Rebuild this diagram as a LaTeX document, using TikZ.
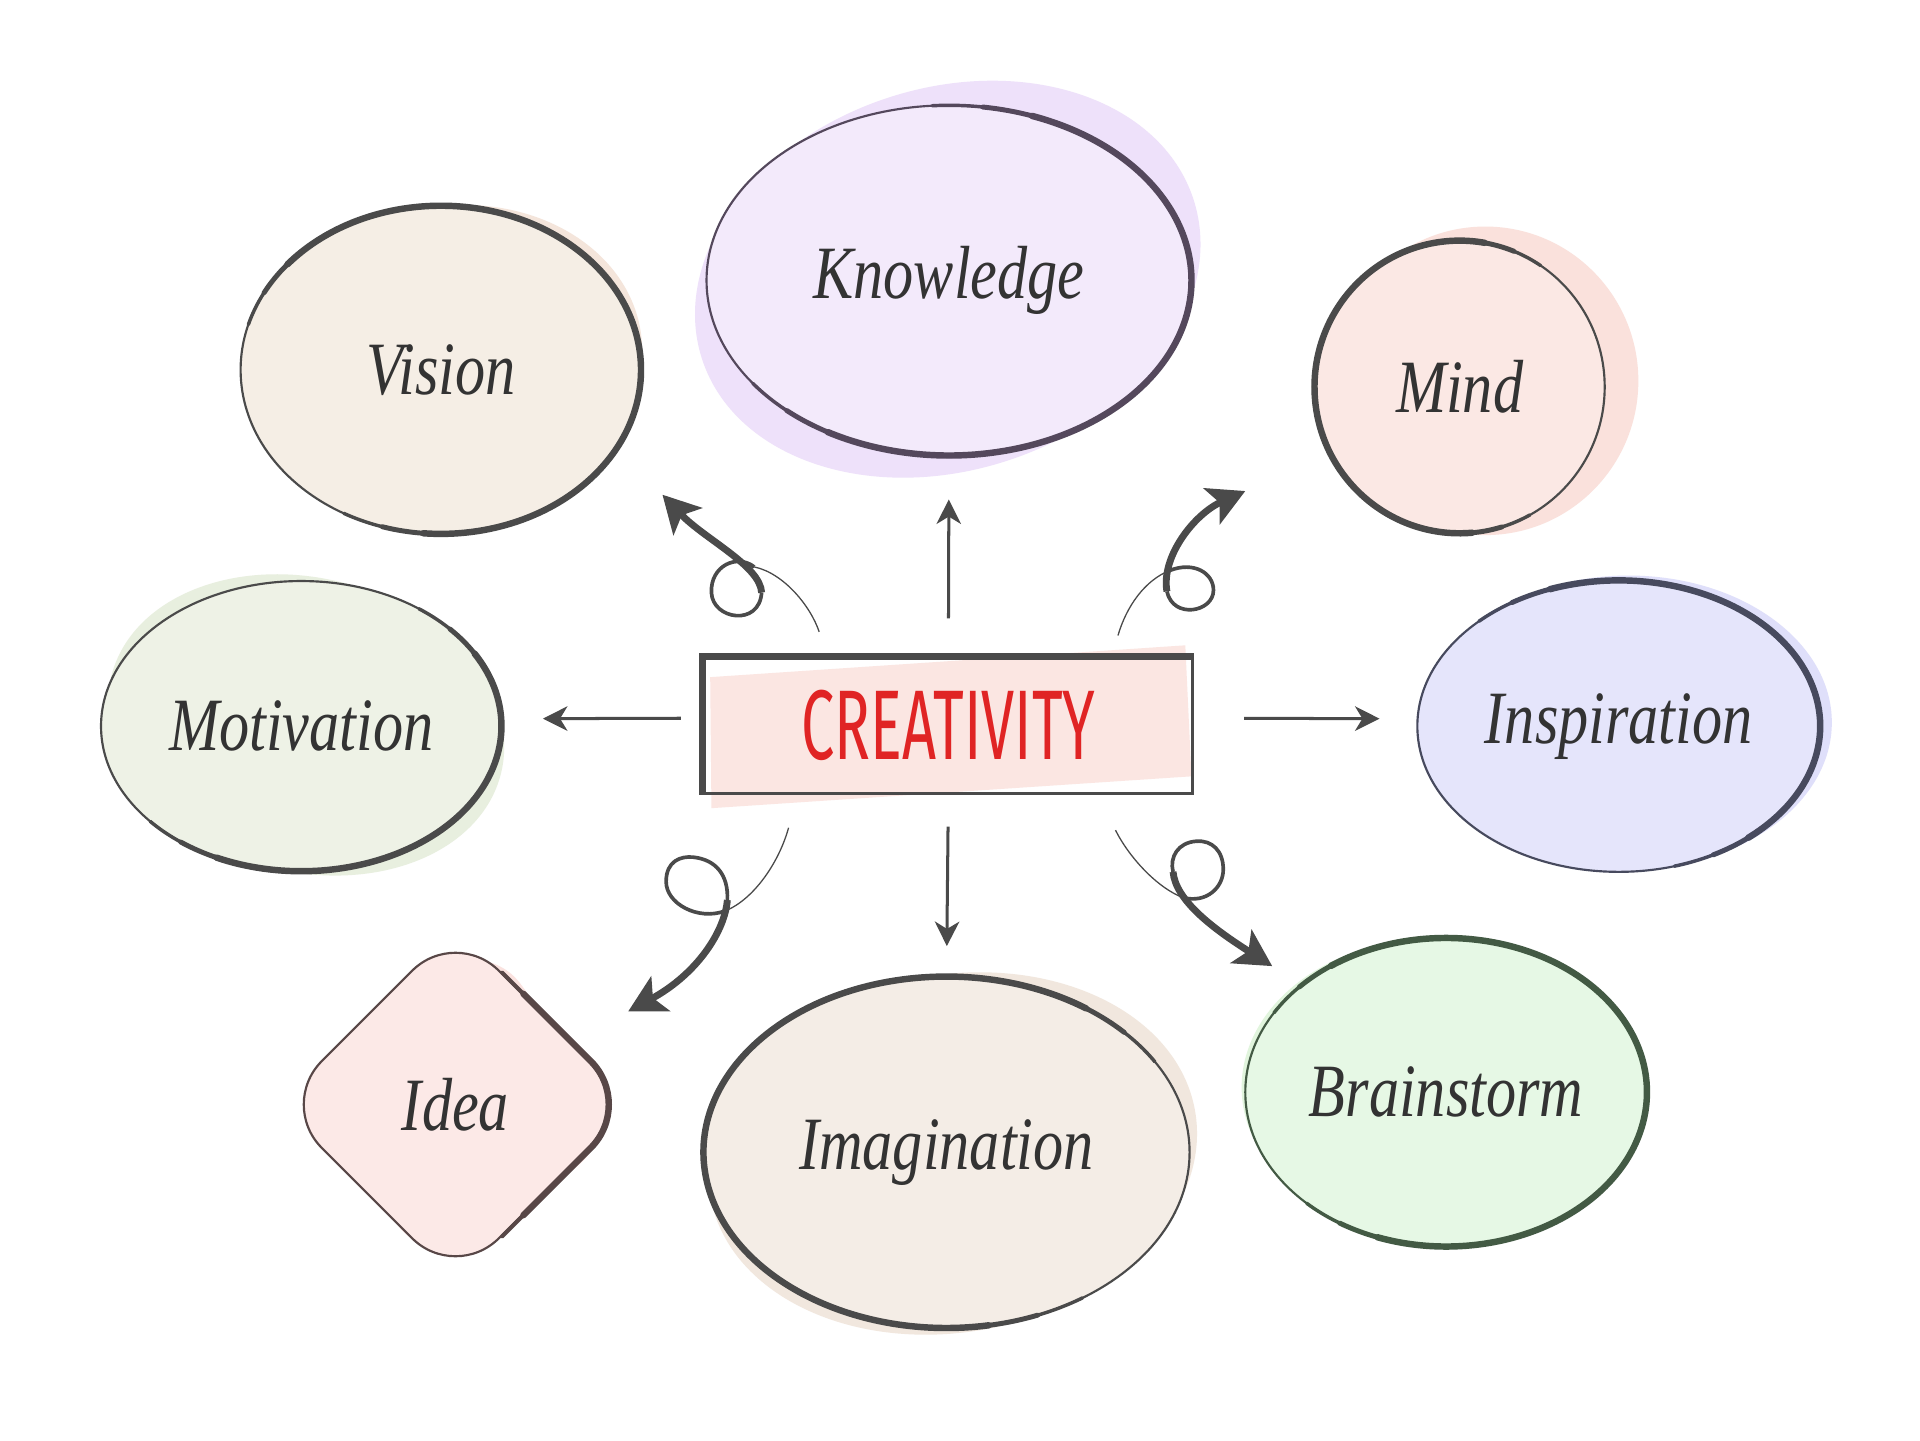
\documentclass[tikz,border=0pt]{standalone}
\usepackage{fontspec}
\usetikzlibrary{shapes.geometric,arrows.meta,calc}
\newfontfamily\handfont[FakeStretch=0.8]{Liberation Serif}
\newfontfamily\brushfont[FakeStretch=0.6]{Fira Sans}
\definecolor{ink}{HTML}{4A4A4A}
\definecolor{labelink}{HTML}{333333}
\definecolor{boxred}{HTML}{E02424}
\definecolor{boxfill}{HTML}{FBE6E2}
\definecolor{knowfill}{HTML}{F3EAFB}
\definecolor{knowblob}{HTML}{EEE1FA}
\definecolor{knowline}{HTML}{54485C}
\definecolor{visfill}{HTML}{F5EEE5}
\definecolor{visblob}{HTML}{F4E5DB}
\definecolor{mindfill}{HTML}{FBE8E4}
\definecolor{mindblob}{HTML}{FAE1DC}
\definecolor{motfill}{HTML}{EEF2E6}
\definecolor{motblob}{HTML}{E8EFDF}
\definecolor{inspfill}{HTML}{E5E5FB}
\definecolor{inspblob}{HTML}{DFDFFA}
\definecolor{inspline}{HTML}{474A5E}
\definecolor{ideafill}{HTML}{FCE9E7}
\definecolor{ideablob}{HTML}{FAE2DF}
\definecolor{idealine}{HTML}{584747}
\definecolor{imagfill}{HTML}{F4EDE6}
\definecolor{imagblob}{HTML}{F1E7DE}
\definecolor{brainfill}{HTML}{E6F8E5}
\definecolor{brainblob}{HTML}{E1F5DD}
\definecolor{brainline}{HTML}{435A44}
\begin{document}
\begin{tikzpicture}[x=0.1mm,y=-0.1mm]
\tikzstyle{every node}+=[inner sep=0pt]
\tikzstyle{bubble}=[ellipse, draw=ink, line width=0.5pt, text=labelink, font=\handfont\itshape\fontsize{17.5}{20}\selectfont]
\tikzstyle{heavy}=[draw=ink, line width=1.5pt, line cap=round]
\tikzstyle{pointer}=[draw=ink, line width=0.7pt, -{Stealth[length=2mm,width=2mm,inset=0.6mm]}]
\tikzstyle{curlthin}=[draw=ink, line width=0.3pt]
\tikzstyle{curlloop}=[draw=ink, line width=0.85pt]
\tikzstyle{curlhead}=[draw=ink, line width=1.6pt, -{Stealth[length=3mm,width=3.2mm,inset=0.7mm]}]
\useasboundingbox[fill=white] (0,0) rectangle (1568,1176);
\fill [knowblob, rotate around={18:(774,228)}] (774,228) ellipse [x radius=21.1mm, y radius=15.6mm];
\fill [visblob, rotate around={8:(370,294)}] (370,294) ellipse [x radius=15.5mm, y radius=12.6mm];
\fill [mindblob] (1213,311) ellipse [x radius=12.5mm, y radius=12.6mm];
\fill [motblob, rotate around={-14:(250,592)}] (250,592) ellipse [x radius=16.4mm, y radius=12mm];
\fill [inspblob] (1330,590) ellipse [x radius=16.6mm, y radius=12mm];
\fill [ideablob, rounded corners=5mm, rotate around={-9:(375,902)}] (375,762) -- (512,902) -- (375,1042) -- (238,902) -- cycle;
\fill [imagblob, rotate around={10:(778,942)}] (778,942) ellipse [x radius=20.1mm, y radius=14.6mm];
\fill [brainblob] (1174,888) ellipse [x radius=16mm, y radius=12.2mm];
\fill [boxfill] (580,553) -- (968,527) -- (973,634) -- (581,660) -- cycle;
\node [bubble, draw=knowline, fill=knowfill, minimum width=39.6mm, minimum height=28.6mm] (know) at (775,229) {Knowledge};
\node [bubble, fill=visfill, minimum width=32.7mm, minimum height=26.8mm] (vis) at (360,302) {Vision};
\node [bubble, fill=mindfill, minimum width=23.7mm, minimum height=23.9mm] (mind) at (1192,316) {Mind};
\node [bubble, fill=motfill, minimum width=32.7mm, minimum height=23.7mm] (mot) at (246,593) {Motivation};
\node [bubble, draw=inspline, fill=inspfill, minimum width=32.9mm, minimum height=23.8mm] (insp) at (1322,593) {Inspiration};
\node [bubble, diamond, draw=idealine, fill=ideafill, minimum width=29mm, minimum height=29mm, rounded corners=5mm] (idea) at (372,902) {Idea};
\node [bubble, fill=imagfill, minimum width=39.7mm, minimum height=28.7mm] (imag) at (773,941) {Imagination};
\node [bubble, draw=brainline, fill=brainfill, minimum width=32.8mm, minimum height=25.2mm] (brain) at (1181,892) {Brainstorm};
\node [draw=ink, line width=0.6pt, minimum width=39.9mm, minimum height=11.1mm, text=boxred, font=\brushfont\fontsize{23}{25}\selectfont] (creat) at (774.5,592.5) {CREATIVITY};
\foreach \n/\rx/\ry/\a/\b/\c in {know/19.8/14.3/70/-120/knowline, vis/16.35/13.4/140/-95/ink, mind/11.85/11.95/275/80/ink, mot/16.35/11.85/30/-115/ink, insp/16.45/11.9/110/-50/inspline, imag/19.85/14.35/280/55/ink, brain/16.4/12.6/125/-110/brainline}
  \foreach \w/\e in {0.8/24,1.15/12,1.5/0}
    \draw [heavy, draw=\c, line width=\w pt] (\n.center) ++(\a+\e:\rx mm and \ry mm) arc [start angle=\a+\e, end angle=\b-\e, x radius=\rx mm, y radius=\ry mm];
\draw [heavy, line width=0.9pt, draw=idealine, rounded corners=5mm] ($(idea.north)!0.26!(idea.east)$) -- (idea.east) -- ($(idea.south)!0.26!(idea.east)$);
\draw [heavy, draw=idealine, rounded corners=5mm] ($(idea.north)!0.38!(idea.east)$) -- (idea.east) -- ($(idea.south)!0.38!(idea.east)$);
\draw [heavy, line width=1.6pt, line cap=butt] (creat.south west) -- (creat.north west) -- (creat.north east);
\draw [pointer, shorten <=3.1mm, shorten >=3.5mm] (creat.north) -- (know.south);
\draw [pointer, shorten <=2.6mm, shorten >=2.4mm] (creat.south) -- (imag.north);
\draw [pointer, shorten <=1.8mm, shorten >=3.3mm] ([yshift=0.6mm]creat.west) -- ([yshift=0.6mm]mot.east);
\draw [pointer, shorten <=4.1mm, shorten >=3mm] ([yshift=0.6mm]creat.east) -- ([yshift=0.6mm]insp.west);
\coordinate (ulA) at (669,516);
\coordinate (ulB) at (616,463);
\coordinate (ulC) at (622,484);
\coordinate (ulD) at (541,404);
\draw [curlthin] (ulA) .. controls (662,495) and (640,468) .. (ulB);
\draw [curlloop] (ulB) .. controls (602,452) and (580,462) .. (581,484) .. controls (582,506) and (620,512) .. (ulC);
\draw [curlhead] (ulC) .. controls (621,462) and (575,440) .. (ulD);
\coordinate (urA) at (913,519);
\coordinate (urB) at (955,466);
\coordinate (urC) at (953,483);
\coordinate (urD) at (1017,401);
\draw [curlthin] (urA) .. controls (920,495) and (935,474) .. (urB);
\draw [curlloop] (urB) .. controls (975,458) and (991,468) .. (991,482) .. controls (991,500) and (958,506) .. (urC);
\draw [curlhead] (urC) .. controls (948,455) and (975,420) .. (urD);
\coordinate (llA) at (644,676);
\coordinate (llB) at (592,744);
\coordinate (llC) at (594,735);
\coordinate (llD) at (513,826);
\draw [curlthin] (llA) .. controls (636,705) and (615,735) .. (llB);
\draw [curlloop] (llB) .. controls (570,752) and (544,738) .. (544,720) .. controls (544,703) and (556,699) .. (566,700) .. controls (585,702) and (595,715) .. (llC);
\draw [curlhead] (llC) .. controls (592,760) and (570,795) .. (llD);
\coordinate (lrA) at (911,678);
\coordinate (lrB) at (966,733);
\coordinate (lrC) at (958,712);
\coordinate (lrD) at (1039,789);
\draw [curlthin] (lrA) .. controls (922,700) and (945,725) .. (lrB);
\draw [curlloop] (lrB) .. controls (985,738) and (999,725) .. (999,710) .. controls (999,695) and (990,686) .. (977,687) .. controls (962,688) and (955,700) .. (lrC);
\draw [curlhead] (lrC) .. controls (960,735) and (990,758) .. (lrD);
\end{tikzpicture}
\end{document}
